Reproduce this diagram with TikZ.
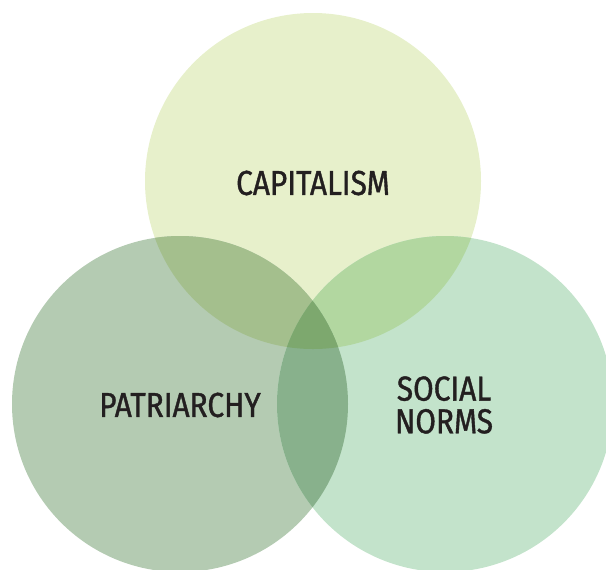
\documentclass[tikz,border=0pt]{standalone}
\usepackage{fontspec}
\setmainfont{Fira Sans}[FakeStretch=0.86, FakeBold=1.1]
\definecolor{capC}{HTML}{E7F0CB}
\definecolor{patC}{HTML}{B4CBB2}
\definecolor{socC}{HTML}{C3E3CB}
\definecolor{capPat}{HTML}{A4BF8D}
\definecolor{capSoc}{HTML}{B2D7A0}
\definecolor{patSoc}{HTML}{88B18C}
\definecolor{allC}{HTML}{7DA86E}
\definecolor{labelC}{HTML}{231F20}
\tikzset{
  setlabel/.style={text=labelC, font=\fontsize{26}{24.5}\selectfont, align=center, inner sep=0pt},
}
\begin{document}
\begin{tikzpicture}[x=0.75pt, y=-0.75pt]
  \useasboundingbox (0,0) rectangle (606,569);
  \clip (0,0) rectangle (606,569);
  \coordinate (cap) at (313,181);
  \coordinate (pat) at (180,404);
  \coordinate (soc) at (445,404);
  \def\rr{126pt}
  % single sets
  \fill[capC] (cap) circle[radius=\rr];
  \fill[patC] (pat) circle[radius=\rr];
  \fill[socC] (soc) circle[radius=\rr];
  % pairwise overlaps
  \begin{scope}
    \clip (cap) circle[radius=\rr];
    \fill[capPat] (pat) circle[radius=\rr];
    \fill[capSoc] (soc) circle[radius=\rr];
  \end{scope}
  \begin{scope}
    \clip (pat) circle[radius=\rr];
    \fill[patSoc] (soc) circle[radius=\rr];
  \end{scope}
  % triple overlap
  \begin{scope}
    \clip (cap) circle[radius=\rr];
    \clip (pat) circle[radius=\rr];
    \fill[allC] (soc) circle[radius=\rr];
  \end{scope}
  % labels
  \node[setlabel] (capL) at (313,183) {CAPITALISM};
  \node[setlabel] (patL) at (180,405) {PATRIARCHY};
  \node[setlabel] (socL) at (444,405) {SOCIAL\\NORMS};
\end{tikzpicture}
\end{document}
